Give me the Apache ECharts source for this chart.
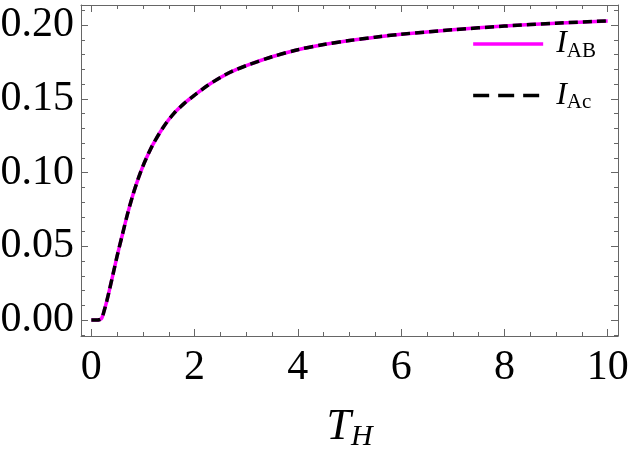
<!DOCTYPE html>
<html>
<head>
<meta charset="utf-8">
<script src="https://cdn.jsdelivr.net/npm/echarts@6/dist/echarts.min.js"></script>
<style>
  html, body { margin: 0; padding: 0; background: #fff; }
  #chart { width: 631px; height: 454px; }
</style>
</head>
<body>
<div id="chart"></div>
<script>
// T_H sample points
const tH = [0, 0.1, 0.15, 0.2, 0.25, 0.3, 0.35, 0.4, 0.45, 0.5, 0.6, 0.7, 0.8, 0.9, 1.0, 1.1, 1.2,
  1.4, 1.6, 1.8, 2.0, 2.25, 2.5, 2.75, 3.0, 3.5, 4.0, 4.5, 5, 5.5, 6, 7, 8, 9, 10]
const iAB = [0, 0, 0.0002, 0.0012, 0.0065, 0.013, 0.0203, 0.028, 0.0357, 0.0435, 0.0577, 0.0718, 0.0843, 0.095, 0.1044, 0.1124, 0.1195,
  0.1311, 0.1401, 0.1469, 0.1525, 0.159, 0.1645, 0.169, 0.1725, 0.1785, 0.1833, 0.1868, 0.1895, 0.1918, 0.1938, 0.1968, 0.1993, 0.2013, 0.2028]
const iAc = [0, 0, 0.0002, 0.0012, 0.0065, 0.013, 0.0203, 0.028, 0.0357, 0.0435, 0.0577, 0.0718, 0.0843, 0.095, 0.1044, 0.1124, 0.1195,
  0.1311, 0.1401, 0.1469, 0.1525, 0.159, 0.1645, 0.169, 0.1725, 0.1785, 0.1833, 0.1868, 0.1895, 0.1918, 0.1938, 0.1968, 0.1993, 0.2013, 0.2028]
const seriesNames = ['AB', 'Ac']

// ticks
const xMajor = [0, 2, 4, 6, 8, 10]
const xMinor = [0.5, 1, 1.5, 2.5, 3, 3.5, 4.5, 5, 5.5, 6.5, 7, 7.5, 8.5, 9, 9.5]
const yMajor = [0, 0.05, 0.1, 0.15, 0.2]
const yMinor = [-0.01, 0.01, 0.02, 0.03, 0.04, 0.06, 0.07, 0.08, 0.09, 0.11, 0.12, 0.13, 0.14, 0.16, 0.17, 0.18, 0.19, 0.21]

const serif = '"Liberation Serif", "DejaVu Serif", serif'
const frame = '#666'
const xRange = { min: -0.2, max: 10.2 }
const yRange = { min: -0.0108, max: 0.2136 }

const toXY = ys => tH.map((x, i) => [x, ys[i]])

const tickAxis = (pos, range, values, len, withLine) => ({
  type: 'value', position: pos, ...range,
  axisLine: { show: withLine, onZero: false, lineStyle: { color: frame, width: 1 } },
  axisTick: { show: true, inside: true, length: len, customValues: values, lineStyle: { color: frame, width: 1 } },
  axisLabel: { show: false },
  splitLine: { show: false },
})

const chart = echarts.init(document.getElementById('chart'))
chart.setOption({
  animation: false,
  grid: { left: 81, right: 13, top: 5, bottom: 118, containLabel: false, outerBoundsMode: 'none' },
  legend: {
    right: 30, top: 23, orient: 'vertical', itemWidth: 70, itemHeight: 14, itemGap: 18,
    data: [
      { name: 'I_' + seriesNames[0] },
      { name: 'I_' + seriesNames[1], lineStyle: { type: [16, 9] } },
    ],
    lineStyle: { width: 3.5 },
    itemStyle: { opacity: 0 },
    formatter: name => '{i|I}{s|' + name.slice(2) + '}',
    textStyle: {
      rich: {
        i: { fontFamily: serif, fontStyle: 'italic', fontSize: 32, color: '#000', padding: [0, 0, 0, 8] },
        s: { fontFamily: serif, fontSize: 21, color: '#000', padding: [14, 0, 0, 0] },
      },
    },
  },
  xAxis: [
    {
      ...tickAxis('bottom', xRange, xMajor, 7, true),
      axisLabel: { show: true, customValues: xMajor, margin: 11, fontFamily: serif, fontSize: 42, color: '#000' },
      name: '{t|T}{h|H}', nameLocation: 'middle', nameGap: 66,
      nameTextStyle: {
        rich: {
          t: { fontFamily: serif, fontStyle: 'italic', fontSize: 44, color: '#000' },
          h: { fontFamily: serif, fontStyle: 'italic', fontSize: 30, color: '#000', padding: [20, 0, 0, 0] },
        },
      },
    },
    tickAxis('bottom', xRange, xMinor, 4, false),
    tickAxis('top', xRange, xMajor, 7, true),
    tickAxis('top', xRange, xMinor, 4, false),
  ],
  yAxis: [
    {
      ...tickAxis('left', yRange, yMajor, 7, true),
      axisLabel: { show: true, customValues: yMajor, margin: 7, fontFamily: serif, fontSize: 42, color: '#000',
        formatter: v => v.toFixed(2) },
    },
    tickAxis('left', yRange, yMinor, 4, false),
    tickAxis('right', yRange, yMajor, 7, true),
    tickAxis('right', yRange, yMinor, 4, false),
  ],
  series: [
    {
      name: 'I_AB', type: 'line', xAxisIndex: 0, yAxisIndex: 0,
      data: toXY(iAB), showSymbol: false, symbol: 'none', smooth: 0.3,
      lineStyle: { color: '#ff00ff', width: 3.5 }, itemStyle: { color: '#ff00ff' },
    },
    {
      name: 'I_Ac', type: 'line', xAxisIndex: 0, yAxisIndex: 0,
      data: toXY(iAc), showSymbol: false, symbol: 'none', smooth: 0.3,
      lineStyle: { color: '#000', width: 3.5, type: [9, 5] }, itemStyle: { color: '#000' },
    },
  ],
})
</script>
</body>
</html>
